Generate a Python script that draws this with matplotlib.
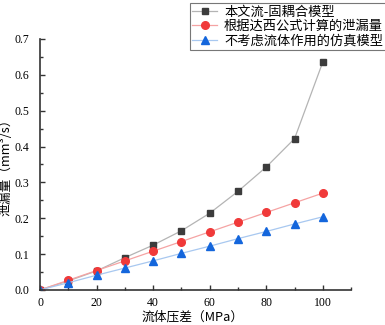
import matplotlib
matplotlib.use("Agg")
import matplotlib.pyplot as plt
from matplotlib.ticker import MultipleLocator

plt.rcParams["font.family"] = ["Noto Sans CJK SC", "DejaVu Sans"]

pressure = [0, 10, 20, 30, 40, 50, 60, 70, 80, 90, 100]
coupled = [0.0, 0.025, 0.053, 0.090, 0.125, 0.165, 0.214, 0.275, 0.343, 0.422, 0.636]
darcy = [0.0, 0.027, 0.054, 0.081, 0.108, 0.135, 0.162, 0.189, 0.216, 0.243, 0.270]
no_fluid = [0.0, 0.020, 0.041, 0.061, 0.081, 0.102, 0.122, 0.143, 0.163, 0.184, 0.204]

labels = ["本文流-固耦合模型", "根据达西公式计算的泄漏量", "不考虑流体作用的仿真模型"]

fig = plt.figure(figsize=(3.85, 3.25), dpi=100)
ax = fig.add_axes([0.104, 0.108, 0.808, 0.772])

num_font = "Liberation Serif"
ax.plot(pressure, coupled, color="#b4b4b4", lw=0.9, marker="s", ms=5,
        mfc="#3c3c3c", mec="#3c3c3c", label=labels[0])
ax.plot(pressure, darcy, color="#f5a3a3", lw=0.9, marker="o", ms=5.5,
        mfc="#f03a3a", mec="#f03a3a", label=labels[1])
ax.plot(pressure, no_fluid, color="#a8c8f0", lw=0.9, marker="^", ms=5.5,
        mfc="#1466dc", mec="#1466dc", label=labels[2])

ax.set_xlim(0, 110)
ax.set_ylim(0, 0.7)
ax.xaxis.set_major_locator(MultipleLocator(20))
ax.xaxis.set_minor_locator(MultipleLocator(10))
ax.yaxis.set_major_locator(MultipleLocator(0.1))
ax.yaxis.set_minor_locator(MultipleLocator(0.05))
ax.spines[["top", "right"]].set_visible(False)
for s in ["left", "bottom"]:
    ax.spines[s].set_linewidth(1.2)
    ax.spines[s].set_color("#333333")
ax.tick_params(which="both", direction="in", color="#333333", width=1.0)
ax.tick_params(which="major", length=3.5)
ax.tick_params(which="minor", length=2)
ax.tick_params(axis="x", pad=5)
ax.tick_params(axis="y", pad=8)

ax.set_xticklabels([f"{int(v)}" for v in ax.get_xticks()], fontfamily=num_font, fontsize=8.5)
ax.set_yticklabels([f"{v:.1f}" for v in ax.get_yticks()], fontfamily=num_font, fontsize=8.5)

ax.set_xlabel("流体压差（MPa）", fontsize=9.2)
ax.set_ylabel("泄漏量（mm³/s）", fontsize=9.2)
ax.xaxis.set_label_coords(0.49, -0.084)
ax.yaxis.set_label_coords(-0.090, 0.5)

leg = ax.legend(loc="upper right", bbox_to_anchor=(1.111, 1.143), fontsize=9.5,
                frameon=True, fancybox=False, edgecolor="#555555",
                handlelength=1.9, borderpad=0.2, labelspacing=0.1, handletextpad=0.5,
                borderaxespad=0)
leg.get_frame().set_linewidth(0.8)

fig.savefig("out.png", dpi=100)
